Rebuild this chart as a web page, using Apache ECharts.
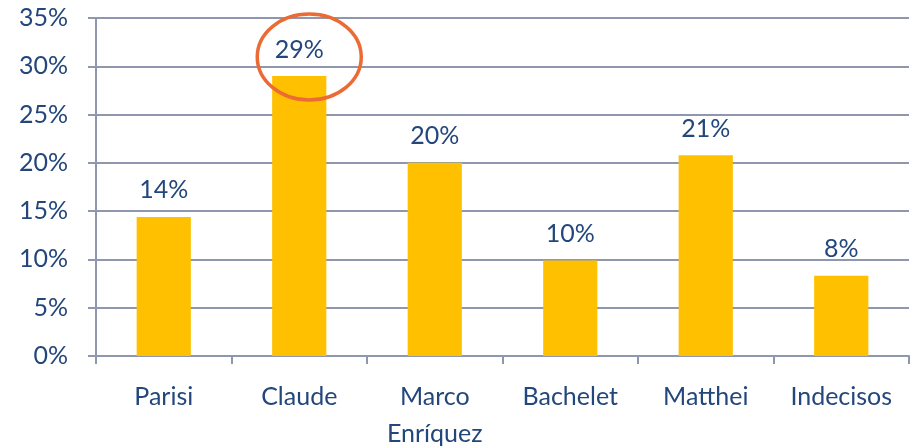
<!DOCTYPE html>
<html>
<head>
<meta charset="utf-8">
<script src="https://cdn.jsdelivr.net/npm/echarts@6/dist/echarts.min.js"></script>
<style>
  html, body { margin: 0; padding: 0; background: #fff; }
  #chart { width: 919px; height: 446px; }
</style>
</head>
<body>
<div id="chart"></div>
<script>
// data
const candidates = ['Parisi', 'Claude', 'Marco\nEnríquez', 'Bachelet', 'Matthei', 'Indecisos']
const shares = [14.4, 29.0, 20.0, 9.9, 20.8, 8.3]
const yTicks = [0, 5, 10, 15, 20, 25, 30, 35]

const textBlue = '#23477b'
const gridColor = '#8e97ad'
const font = 'Lato, "Open Sans", sans-serif'

const chart = echarts.init(document.getElementById('chart'))

const option = {
  animation: false,
  grid: { left: 96, right: 10, top: 18, bottom: 90, outerBoundsMode: 'none' },
  xAxis: {
    type: 'category',
    data: candidates,
    axisLine: { lineStyle: { color: gridColor, width: 2 } },
    axisTick: { show: true, length: 8, lineStyle: { color: gridColor, width: 2 } },
    axisLabel: {
      color: textBlue, fontSize: 25, fontFamily: font,
      margin: 22, lineHeight: 37, interval: 0
    }
  },
  yAxis: {
    type: 'value',
    min: yTicks[0],
    max: yTicks[yTicks.length - 1],
    interval: 5,
    axisLine: { show: true, lineStyle: { color: gridColor, width: 2 } },
    axisTick: { show: true, length: 8, lineStyle: { color: gridColor, width: 2 } },
    splitLine: { lineStyle: { color: gridColor, width: 2 } },
    axisLabel: {
      color: textBlue, fontSize: 25, fontFamily: font, margin: 28,
      formatter: v => v + '%'
    }
  },
  series: [{
    type: 'bar',
    data: shares,
    barWidth: '40%',
    itemStyle: { color: '#ffc000' },
    label: {
      show: true,
      position: 'top',
      distance: 14,
      color: textBlue,
      fontSize: 25,
      fontFamily: font,
      formatter: p => Math.round(p.value) + '%'
    }
  }]
}

chart.setOption(option)

// red ellipse around the Claude label
const c = chart.convertToPixel({ seriesIndex: 0 }, [1, shares[1]])
chart.setOption({
  graphic: [{
    type: 'ellipse',
    shape: { cx: c[0] + 10, cy: c[1] - 19, rx: 52, ry: 43 },
    style: { fill: 'none', stroke: '#ec6a33', lineWidth: 3.5 },
    z: 100
  }]
})
</script>
</body>
</html>
